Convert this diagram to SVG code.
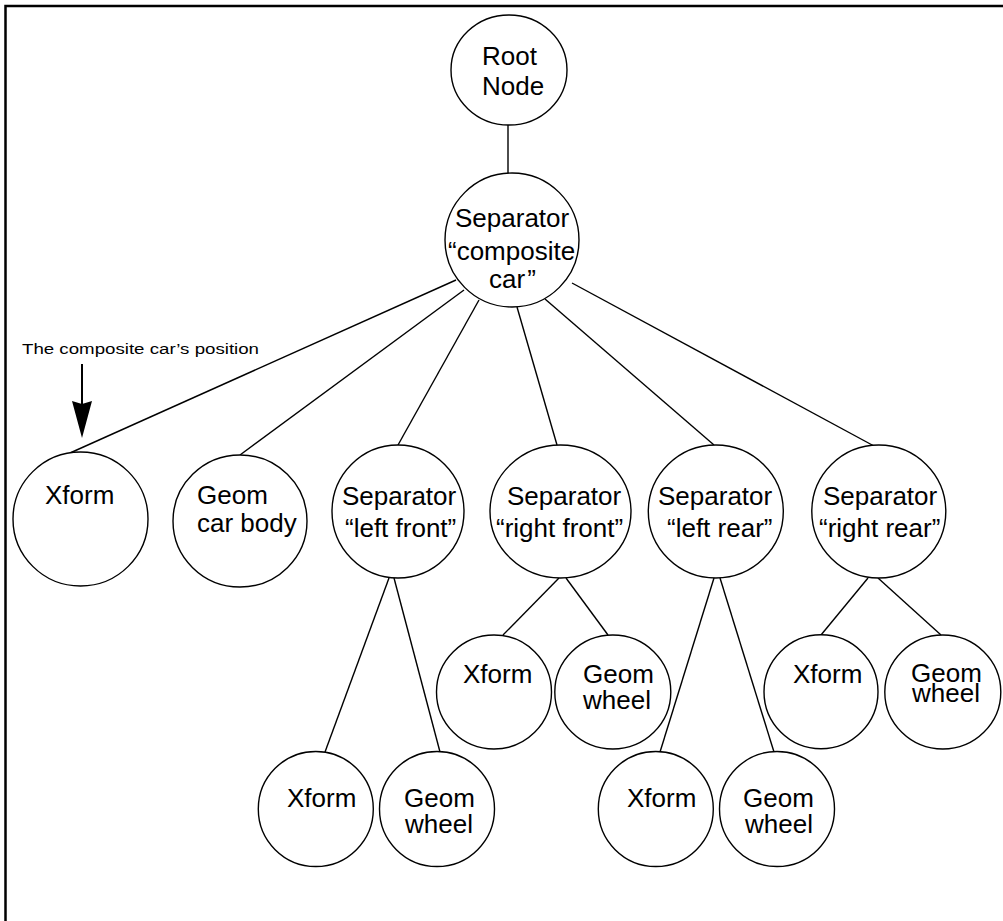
<svg xmlns="http://www.w3.org/2000/svg" width="1003" height="921" viewBox="0 0 1003 921">
  <style>
    .node { fill: #fff; stroke: #000; stroke-width: 1.4; }
    .lbl { font-family: "Liberation Sans", Arial, sans-serif; font-size: 26px; fill: #000; }
    .note { font-family: "Liberation Sans", Arial, sans-serif; font-size: 14px; fill: #000; }
    .edge { stroke: #000; stroke-width: 1.4; fill: none; }
  </style>
  <rect width="1003" height="921" fill="#fff"/>

  <!-- page frame (top and left rules) -->
  <path d="M5.5,921 V6 H1003" fill="none" stroke="#000" stroke-width="2.5"/>

  <!-- connectors -->
  <g id="connectors" class="edge">
    <line x1="508" y1="125" x2="508" y2="173"/>
    <line x1="456" y1="280" x2="70" y2="453"/>
    <line x1="464" y1="290" x2="240" y2="455"/>
    <line x1="479" y1="300" x2="398" y2="445"/>
    <line x1="517" y1="307" x2="557" y2="445"/>
    <line x1="545" y1="299" x2="714" y2="445"/>
    <line x1="572" y1="283" x2="874" y2="446"/>
    <line x1="389" y1="578" x2="325" y2="752"/>
    <line x1="394" y1="578" x2="440" y2="752"/>
    <line x1="559" y1="578" x2="503" y2="635"/>
    <line x1="566" y1="578" x2="608" y2="635"/>
    <line x1="714" y1="578" x2="660" y2="752"/>
    <line x1="720" y1="578" x2="774" y2="752"/>
    <line x1="868" y1="578" x2="821" y2="635"/>
    <line x1="878" y1="578" x2="941" y2="635"/>
  </g>

  <!-- annotation with pointer arrow -->
  <g id="annotation">
    <text class="note" x="22" y="354" textLength="237" lengthAdjust="spacingAndGlyphs">The composite car’s position</text>
    <line x1="82" y1="364" x2="82" y2="404" stroke="#000" stroke-width="2"/>
    <polygon points="72,401 82,438 92,401 82,404" fill="#000"/>
  </g>

  <g id="root">
    <ellipse class="node" cx="509" cy="70" rx="58" ry="55"/>
    <text class="lbl" x="482" y="65">Root</text>
    <text class="lbl" x="482" y="95">Node</text>
  </g>

  <g id="composite-car">
    <ellipse class="node" cx="512" cy="240" rx="67" ry="67"/>
    <text class="lbl" x="455" y="227">Separator</text>
    <text class="lbl" x="448" y="260">“composite</text>
    <text class="lbl" x="489" y="288">car<tspan dx="2">”</tspan></text>
  </g>

  <g id="car-xform">
    <ellipse class="node" cx="80.5" cy="519" rx="67.5" ry="67"/>
    <text class="lbl" x="45" y="504">Xform</text>
  </g>

  <g id="car-body">
    <ellipse class="node" cx="240" cy="521" rx="67" ry="66"/>
    <text class="lbl" x="197" y="504">Geom</text>
    <text class="lbl" x="197" y="532">car body</text>
  </g>

  <g id="left-front">
    <ellipse class="node" cx="398" cy="511.5" rx="66" ry="66.5"/>
    <text class="lbl" x="342" y="505">Separator</text>
    <text class="lbl" x="345" y="537">“left front”</text>
  </g>

  <g id="right-front">
    <ellipse class="node" cx="560.5" cy="511.5" rx="70.5" ry="66.5"/>
    <text class="lbl" x="507" y="505">Separator</text>
    <text class="lbl" x="496" y="537">“right front”</text>
  </g>

  <g id="left-rear">
    <ellipse class="node" cx="715.8" cy="511.5" rx="67.5" ry="66.5"/>
    <text class="lbl" x="658" y="505">Separator</text>
    <text class="lbl" x="667" y="537">“left rear”</text>
  </g>

  <g id="right-rear">
    <ellipse class="node" cx="878.8" cy="511.5" rx="67" ry="66.5"/>
    <text class="lbl" x="823" y="505">Separator</text>
    <text class="lbl" x="819" y="537">“right rear”</text>
  </g>

  <g id="left-front-xform">
    <ellipse class="node" cx="315.8" cy="809" rx="57.5" ry="57.5"/>
    <text class="lbl" x="287" y="807">Xform</text>
  </g>

  <g id="left-front-wheel">
    <ellipse class="node" cx="437" cy="809" rx="57.5" ry="57.5"/>
    <text class="lbl" x="404" y="807">Geom</text>
    <text class="lbl" x="405" y="833">wheel</text>
  </g>

  <g id="right-front-xform">
    <ellipse class="node" cx="494" cy="692" rx="57.5" ry="57"/>
    <text class="lbl" x="463" y="683">Xform</text>
  </g>

  <g id="right-front-wheel">
    <ellipse class="node" cx="612.8" cy="692" rx="58" ry="57"/>
    <text class="lbl" x="583" y="683">Geom</text>
    <text class="lbl" x="583" y="709">wheel</text>
  </g>

  <g id="left-rear-xform">
    <ellipse class="node" cx="655.8" cy="809" rx="57.5" ry="57.5"/>
    <text class="lbl" x="627" y="807">Xform</text>
  </g>

  <g id="left-rear-wheel">
    <ellipse class="node" cx="777" cy="809" rx="57.5" ry="57.5"/>
    <text class="lbl" x="743" y="807">Geom</text>
    <text class="lbl" x="745" y="833">wheel</text>
  </g>

  <g id="right-rear-xform">
    <ellipse class="node" cx="821" cy="691.7" rx="57" ry="57"/>
    <text class="lbl" x="793" y="683">Xform</text>
  </g>

  <g id="right-rear-wheel">
    <ellipse class="node" cx="942.8" cy="692" rx="58" ry="57"/>
    <text class="lbl" x="911" y="682">Geom</text>
    <text class="lbl" x="912" y="702">wheel</text>
  </g>
</svg>
